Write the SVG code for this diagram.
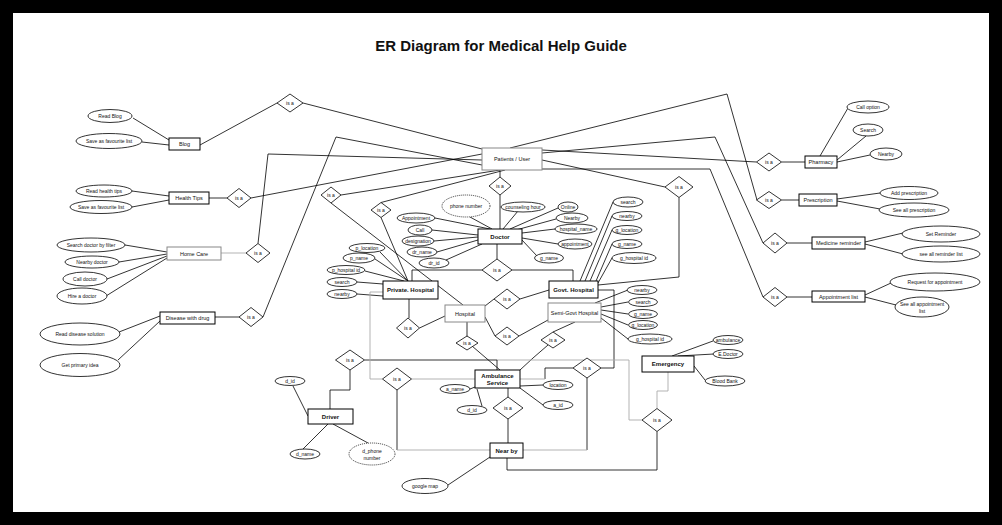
<svg xmlns="http://www.w3.org/2000/svg" width="1002" height="525" viewBox="0 0 1002 525">
<style>
  text { font-family: "Liberation Sans", Arial, sans-serif; fill: #111; text-anchor: middle; dominant-baseline: central; }
  .t { font-size: 5.5px; }
  .tb { font-size: 6px; font-weight: bold; }
  .ti { font-size: 5px; }
  .title { font-size: 15px; font-weight: bold; }
  .ent { fill: #fff; stroke: #000; stroke-width: 1; }
  .entg { fill: #fff; stroke: #888; stroke-width: 1; }
  .att { fill: #fff; stroke: #000; stroke-width: 0.8; }
  .dot { fill: #fff; stroke: #000; stroke-width: 0.8; stroke-dasharray: 1 1; }
  .rel { fill: #fff; stroke: #000; stroke-width: 0.8; }
  .c { fill: none; stroke: #000; stroke-width: 0.8; }
  .cg { fill: none; stroke: #aaa; stroke-width: 0.9; }
</style>

<!-- frame -->
<rect x="0" y="0" width="1002" height="525" fill="#000"/>
<rect x="13" y="13" width="976" height="499" fill="#fff"/>

<text class="title" x="501" y="45">ER Diagram for Medical Help Guide</text>

<!-- connectors -->
<g id="connectors">
  <!-- Blog -->
  <path class="c" d="M133,118 L169,140"/>
  <path class="c" d="M142,142 L169,145"/>
  <path class="c" d="M200,145 L277,103"/>
  <path class="c" d="M303,103 L482,149"/>
  <!-- Health Tips -->
  <path class="c" d="M132,191 L169,196"/>
  <path class="c" d="M132,207 L169,200"/>
  <path class="c" d="M209,198 L227,198"/>
  <path class="c" d="M251,198 L482,154"/>
  <!-- Home Care -->
  <path class="c" d="M125,245 L167,252"/>
  <path class="c" d="M119,262 L167,254"/>
  <path class="c" d="M107,279 L167,256"/>
  <path class="c" d="M106,296 L167,258"/>
  <path class="cg" d="M221,253 L246,253"/>
  <path class="c" d="M258,243.5 L268,154 L482,160"/>
  <!-- Disease with drug -->
  <path class="c" d="M119,332 L160,316"/>
  <path class="c" d="M118,360 L160,321"/>
  <path class="c" d="M215,317 L239,317"/>
  <path class="c" d="M263,317 L336,137 L482,165"/>
  <!-- Patients to hospitals / doctor -->
  <path class="c" d="M341,195 L500,170"/>
  <path class="c" d="M381,202.5 L505,170"/>
  <path class="c" d="M331,203 L463,305"/>
  <path class="c" d="M381,217.5 L408,281"/>
  <path class="c" d="M500,170 L500,177"/>
  <path class="c" d="M500,195 L500,229"/>
  <!-- Doctor attributes -->
  <path class="c" d="M435,218 L490,229"/>
  <path class="c" d="M470,217 L492,229"/>
  <path class="c" d="M518,211 L503,229"/>
  <path class="c" d="M558,208 L510,229"/>
  <path class="c" d="M556,219 L516,230"/>
  <path class="c" d="M555,229 L522,233"/>
  <path class="c" d="M558,244 L522,238"/>
  <path class="c" d="M537,256 L522,240"/>
  <path class="c" d="M432,230 L478,235"/>
  <path class="c" d="M434,241 L478,237"/>
  <path class="c" d="M437,252 L478,240"/>
  <path class="c" d="M446,260 L482,244"/>
  <path class="c" d="M497,244 L497,259"/>
  <path class="c" d="M482,270 L412,270 L412,281"/>
  <path class="c" d="M512,270 L573,270 L573,281"/>
  <!-- Private hospital attributes -->
  <path class="c" d="M380,252 L408,281"/>
  <path class="c" d="M375,259 L408,281"/>
  <path class="c" d="M365,271 L404,281"/>
  <path class="c" d="M357,282 L383,284"/>
  <path class="c" d="M357,294 L383,296"/>
  <path class="c" d="M409,299 L409,318"/>
  <path class="c" d="M419.5,328 L445,316"/>
  <!-- Hospital -->
  <path class="c" d="M485,306 L494,299"/>
  <path class="c" d="M520,299 L549,290"/>
  <path class="c" d="M485,317 L495,336"/>
  <path class="c" d="M519,336 L548,320"/>
  <path class="c" d="M467,322 L467,337"/>
  <path class="c" d="M472,346 L500,370"/>
  <path class="c" d="M575,322 L553,332"/>
  <path class="c" d="M548,345 L533,358 L520,370"/>
  <!-- Govt hospital attributes -->
  <path class="c" d="M613,202 L580,281"/>
  <path class="c" d="M612,216 L585,281"/>
  <path class="c" d="M612,230 L590,281"/>
  <path class="c" d="M612,244 L596,281"/>
  <path class="c" d="M612,258 L598,283"/>
  <path class="c" d="M542,160 L665,187"/>
  <path class="c" d="M679,197.5 L679,277 L598,285"/>
  <!-- Semi-Govt attributes -->
  <path class="c" d="M628,290 L595,303"/>
  <path class="c" d="M628,302 L601,307"/>
  <path class="c" d="M628,314 L601,310"/>
  <path class="c" d="M628,325 L601,314"/>
  <path class="c" d="M628,339 L601,318"/>
  <path class="c" d="M601,368 L614,368 L614,290 L598,290"/>
  <path class="c" d="M573,368 L545,368 L545,379"/>
  <path class="cg" d="M545,379 L520,379"/>
  <path class="c" d="M587,378 L587,450"/>
  <path class="cg" d="M587,450 L523,450"/>
  <!-- Ambulance service -->
  <path class="c" d="M543,385 L520,386"/>
  <path class="c" d="M543,405 L520,388"/>
  <path class="c" d="M470,389 L475,387"/>
  <path class="c" d="M482,406 L477,389"/>
  <path class="c" d="M508,388 L508,397"/>
  <path class="c" d="M508,419 L508,443"/>
  <path class="c" d="M507,458 L507,470 L657,470 L657,431.5"/>
  <path class="cg" d="M657,408.5 L657,391 L668,391 L668,372"/>
  <path class="c" d="M364.5,360 L497,360"/>
  <path class="cg" d="M497,360 L629,360 L629,420 L642,420"/>
  <path class="c" d="M497,360 L497,370"/>
  <!-- Private hospital to ambulance / near by -->
  <path class="cg" d="M383,292 L370,292 L370,379 L382.5,379"/>
  <path class="cg" d="M411.5,379 L475,379"/>
  <path class="c" d="M397,390 L397,450"/>
  <path class="cg" d="M397,450 L490,450"/>
  <!-- Driver -->
  <path class="c" d="M350,370 L350,390 L330,390 L330,409"/>
  <path class="c" d="M293,386 L308,416"/>
  <path class="c" d="M303,449 L328,424"/>
  <path class="c" d="M368,443 L333,424"/>
  <path class="c" d="M448,485 L490,457"/>
  <!-- Emergency -->
  <path class="c" d="M713,341 L672,356"/>
  <path class="c" d="M714,354 L678,356"/>
  <path class="c" d="M705,380 L694,366"/>
  <!-- Patients to right-hand services -->
  <path class="c" d="M510,148 L727,94 L757,200"/>
  <path class="c" d="M542,150 L756.5,162"/>
  <path class="c" d="M542,153 L715,137 L763,243"/>
  <path class="c" d="M542,169 L710,169 L763,297"/>
  <path class="c" d="M781.5,162 L805,162"/>
  <path class="c" d="M781.5,200 L799,200"/>
  <path class="c" d="M787,243 L812,243"/>
  <path class="c" d="M787,297 L812,297"/>
  <!-- Pharmacy attributes -->
  <path class="c" d="M848,108 L820,156"/>
  <path class="c" d="M866,136 L837,160"/>
  <path class="c" d="M870,155 L837,162"/>
  <!-- Prescription attributes -->
  <path class="c" d="M837,199 L880,193"/>
  <path class="c" d="M837,201 L880,209"/>
  <!-- Medicine reminder attributes -->
  <path class="c" d="M865,242 L903,233"/>
  <path class="c" d="M865,244 L903,254"/>
  <!-- Appointment list attributes -->
  <path class="c" d="M865,295 L891,283"/>
  <path class="c" d="M865,297 L896,305"/>
</g>

<!-- relationships -->
<g id="relationships">
  <g id="isa-blog"><polygon class="rel" points="277,103 290,94 303,103 290,112"/><text class="ti" x="290" y="103">is a</text></g>
  <g id="isa-health"><polygon class="rel" points="227,198 239,188.5 251,198 239,207.5"/><text class="ti" x="239" y="198">is a</text></g>
  <g id="isa-home"><polygon class="rel" points="246,253 258,243.5 270,253 258,262.5"/><text class="ti" x="258" y="253">is a</text></g>
  <g id="isa-disease"><polygon class="rel" points="239,317 251,307.5 263,317 251,326.5"/><text class="ti" x="251" y="317">is a</text></g>
  <g id="isa-hospital"><polygon class="rel" points="321,195 331,187 341,195 331,203"/><text class="ti" x="331" y="195">is a</text></g>
  <g id="isa-private"><polygon class="rel" points="371,210 381,202.5 391,210 381,217.5"/><text class="ti" x="381" y="210">is a</text></g>
  <g id="isa-doctor"><polygon class="rel" points="489,186 500,177 511,186 500,195"/><text class="ti" x="500" y="186">is a</text></g>
  <g id="isa-doctor-hosp"><polygon class="rel" points="482,270 497,259 512,270 497,281"/><text class="ti" x="497" y="270">is a</text></g>
  <g id="isa-govt"><polygon class="rel" points="665,187 679,176.5 693,187 679,197.5"/><text class="ti" x="679" y="187">is a</text></g>
  <g id="isa-pharmacy"><polygon class="rel" points="756.5,162 769,153 781.5,162 769,171"/><text class="ti" x="769" y="162">is a</text></g>
  <g id="isa-prescription"><polygon class="rel" points="756.5,200 769,191.5 781.5,200 769,208.5"/><text class="ti" x="769" y="200">is a</text></g>
  <g id="isa-medicine"><polygon class="rel" points="763,243 775,233 787,243 775,253"/><text class="ti" x="775" y="243">is a</text></g>
  <g id="isa-appointment"><polygon class="rel" points="763,297 775,287.5 787,297 775,306.5"/><text class="ti" x="775" y="297">is a</text></g>
  <g id="isa-private-hosp"><polygon class="rel" points="396.5,328 408,318 419.5,328 408,338"/><text class="ti" x="408" y="328">is a</text></g>
  <g id="isa-hosp-govt"><polygon class="rel" points="494,299 507,289 520,299 507,309"/><text class="ti" x="507" y="299">is a</text></g>
  <g id="isa-hosp-semi"><polygon class="rel" points="495,336 507,327 519,336 507,345"/><text class="ti" x="507" y="336">is a</text></g>
  <g id="isa-hosp-amb"><polygon class="rel" points="456,343 467,336 478,343 467,350"/><text class="ti" x="467" y="343">is a</text></g>
  <g id="isa-semi-amb"><polygon class="rel" points="541,340 553,332 565,340 553,348"/><text class="ti" x="553" y="340">is a</text></g>
  <g id="isa-govt-amb"><polygon class="rel" points="573,368 587,358 601,368 587,378"/><text class="ti" x="587" y="368">is a</text></g>
  <g id="isa-driver"><polygon class="rel" points="335.5,360 350,350 364.5,360 350,370"/><text class="ti" x="350" y="360">is a</text></g>
  <g id="isa-private-amb"><polygon class="rel" points="382.5,379 397,368 411.5,379 397,390"/><text class="ti" x="397" y="379">is a</text></g>
  <g id="isa-amb-nearby"><polygon class="rel" points="493,408 508,397 523,408 508,419"/><text class="ti" x="508" y="408">is a</text></g>
  <g id="isa-emergency"><polygon class="rel" points="642,420 657,408.5 672,420 657,431.5"/><text class="ti" x="657" y="420">is a</text></g>
</g>

<!-- entities -->
<g id="blog"><rect class="ent" x="169" y="138" width="31" height="12"/><text class="t" x="184.5" y="144">Blog</text></g>
<g id="health-tips"><rect class="ent" x="169" y="192" width="40" height="12"/><text class="t" x="189" y="198">Health Tips</text></g>
<g id="home-care"><rect class="entg" x="167" y="247" width="54" height="13"/><text class="t" x="194" y="253.5">Home Care</text></g>
<g id="disease-with-drug"><rect class="ent" x="160" y="312" width="55" height="12"/><text class="t" x="187.5" y="318">Disease with drug</text></g>
<g id="patients-user"><rect class="entg" x="482" y="148" width="60" height="22"/><text class="t" x="512" y="159">Patients / User</text></g>
<g id="doctor"><rect class="ent" x="478" y="229" width="44" height="15"/><text class="tb" x="500" y="236.5">Doctor</text></g>
<g id="private-hospital"><rect class="ent" x="383" y="281" width="55" height="18"/><text class="tb" x="410.5" y="290">Private. Hospital</text></g>
<g id="govt-hospital"><rect class="ent" x="549" y="281" width="49" height="17"/><text class="tb" x="573.5" y="289.5">Govt. Hospital</text></g>
<g id="hospital"><rect class="entg" x="445" y="305" width="40" height="17"/><text class="t" x="465" y="313.5">Hospital</text></g>
<g id="semi-govt-hospital"><rect class="entg" x="548" y="303" width="53" height="19"/><text class="t" x="574.5" y="312.5">Semi-Govt Hospital</text></g>
<g id="ambulance-service"><rect class="ent" x="475" y="370" width="45" height="18"/><text class="tb" x="497.5" y="375.5">Ambulance</text><text class="tb" x="497.5" y="382.5">Service</text></g>
<g id="driver"><rect class="ent" x="308" y="409" width="45" height="15"/><text class="tb" x="330.5" y="416.5">Driver</text></g>
<g id="near-by"><rect class="ent" x="490" y="443" width="33" height="15"/><text class="tb" x="506.5" y="450.5">Near by</text></g>
<g id="emergency"><rect class="ent" x="642" y="356" width="52" height="16"/><text class="tb" x="668" y="364">Emergency</text></g>
<g id="pharmacy"><rect class="ent" x="805" y="156" width="32" height="12"/><text class="t" x="821" y="162">Pharmacy</text></g>
<g id="prescription"><rect class="ent" x="799" y="194" width="38" height="12"/><text class="t" x="818" y="200">Prescription</text></g>
<g id="medicine-reminder"><rect class="ent" x="812" y="237" width="53" height="12"/><text class="t" x="838.5" y="243">Medicine reminder</text></g>
<g id="appointment-list"><rect class="ent" x="812" y="291" width="53" height="11"/><text class="t" x="838.5" y="296.5">Appointment list</text></g>

<!-- attributes -->
<g id="attributes">
  <g><ellipse class="att" cx="110" cy="116" rx="22" ry="6.5"/><text class="ti" x="110" y="116">Read Blog</text></g>
  <g><ellipse class="att" cx="109" cy="141" rx="33" ry="7.5"/><text class="ti" x="109" y="141">Save  as favourite list</text></g>
  <g><ellipse class="att" cx="104" cy="191" rx="28" ry="6"/><text class="ti" x="104" y="191">Read health tips</text></g>
  <g><ellipse class="att" cx="101" cy="207" rx="31" ry="6.5"/><text class="ti" x="101" y="207">Save  as favourite list</text></g>
  <g><ellipse class="att" cx="91" cy="245" rx="34" ry="7"/><text class="ti" x="91" y="245">Search doctor by filter</text></g>
  <g><ellipse class="att" cx="92" cy="262" rx="27" ry="6"/><text class="ti" x="92" y="262">Nearby doctor</text></g>
  <g><ellipse class="att" cx="85" cy="279" rx="22" ry="7"/><text class="ti" x="85" y="279">Call doctor</text></g>
  <g><ellipse class="att" cx="82" cy="296" rx="25" ry="8"/><text class="ti" x="82" y="296">Hire a doctor</text></g>
  <g><ellipse class="att" cx="80" cy="334" rx="40" ry="11"/><text class="ti" x="80" y="334">Read disease solution</text></g>
  <g><ellipse class="att" cx="80" cy="365" rx="40" ry="11.5"/><text class="ti" x="80" y="365">Get primary idea</text></g>

  <g><ellipse class="dot" cx="466" cy="206" rx="24" ry="11"/><text class="ti" x="466" y="206">phone number</text></g>
  <g><ellipse class="att" cx="523" cy="207" rx="22" ry="5"/><text class="ti" x="523" y="207">counseling hour</text></g>
  <g><ellipse class="att" cx="568" cy="207" rx="10" ry="5"/><text class="ti" x="568" y="207">Online</text></g>
  <g><ellipse class="att" cx="572" cy="218" rx="16" ry="5"/><text class="ti" x="572" y="218">Nearby</text></g>
  <g><ellipse class="att" cx="576" cy="229" rx="21" ry="5"/><text class="ti" x="576" y="229">hospital_name</text></g>
  <g><ellipse class="att" cx="575" cy="244" rx="17" ry="5"/><text class="ti" x="575" y="244">appointment</text></g>
  <g><ellipse class="att" cx="549" cy="258" rx="14.5" ry="5"/><text class="ti" x="549" y="258">g_name</text></g>
  <g><ellipse class="att" cx="416" cy="218" rx="19" ry="5"/><text class="ti" x="416" y="218">Appointment</text></g>
  <g><ellipse class="att" cx="420" cy="230" rx="12" ry="5"/><text class="ti" x="420" y="230">Call</text></g>
  <g><ellipse class="att" cx="418" cy="241" rx="16" ry="5"/><text class="ti" x="418" y="241">designation</text></g>
  <g><ellipse class="att" cx="422" cy="252" rx="15" ry="5"/><text class="ti" x="422" y="252">dr_name</text></g>
  <g><ellipse class="att" cx="434" cy="263" rx="15" ry="5"/><text class="ti" x="434" y="263">dr_id</text></g>

  <g><ellipse class="att" cx="367" cy="248" rx="18" ry="4.5"/><text class="ti" x="367" y="248">p_location</text></g>
  <g><ellipse class="att" cx="359" cy="258" rx="16" ry="5"/><text class="ti" x="359" y="258">p_name</text></g>
  <g><ellipse class="att" cx="346" cy="270" rx="19" ry="4.5"/><text class="ti" x="346" y="270">p_hospital id</text></g>
  <g><ellipse class="att" cx="342" cy="282" rx="15" ry="4.5"/><text class="ti" x="342" y="282">search</text></g>
  <g><ellipse class="att" cx="342" cy="294" rx="15" ry="4.5"/><text class="ti" x="342" y="294">nearby</text></g>

  <g><ellipse class="att" cx="628" cy="202" rx="15" ry="5"/><text class="ti" x="628" y="202">search</text></g>
  <g><ellipse class="att" cx="627" cy="216" rx="15" ry="4.5"/><text class="ti" x="627" y="216">nearby</text></g>
  <g><ellipse class="att" cx="627" cy="230" rx="15" ry="4.5"/><text class="ti" x="627" y="230">g_location</text></g>
  <g><ellipse class="att" cx="627" cy="244" rx="15" ry="4.5"/><text class="ti" x="627" y="244">g_name</text></g>
  <g><ellipse class="att" cx="634" cy="258" rx="22" ry="5.5"/><text class="ti" x="634" y="258">g_hospital id</text></g>

  <g><ellipse class="att" cx="642" cy="290" rx="15" ry="4.5"/><text class="ti" x="642" y="290">nearby</text></g>
  <g><ellipse class="att" cx="643" cy="302" rx="14.5" ry="4.5"/><text class="ti" x="643" y="302">search</text></g>
  <g><ellipse class="att" cx="643" cy="314" rx="14.5" ry="4.5"/><text class="ti" x="643" y="314">g_name</text></g>
  <g><ellipse class="att" cx="643" cy="325" rx="14.5" ry="4.5"/><text class="ti" x="643" y="325">g_location</text></g>
  <g><ellipse class="att" cx="650" cy="339" rx="22" ry="5"/><text class="ti" x="650" y="339">g_hospital id</text></g>

  <g><ellipse class="att" cx="728" cy="340" rx="15" ry="4.5"/><text class="ti" x="728" y="340">ambulance</text></g>
  <g><ellipse class="att" cx="728" cy="354" rx="15" ry="4.5"/><text class="ti" x="728" y="354">E.Doctor</text></g>
  <g><ellipse class="att" cx="725" cy="381" rx="20" ry="5"/><text class="ti" x="725" y="381">Blood Bank</text></g>

  <g><ellipse class="att" cx="558" cy="385" rx="15" ry="4.5"/><text class="ti" x="558" y="385">location</text></g>
  <g><ellipse class="att" cx="558" cy="405" rx="15" ry="4.5"/><text class="ti" x="558" y="405">a_id</text></g>
  <g><ellipse class="att" cx="455" cy="389" rx="15" ry="4.5"/><text class="ti" x="455" y="389">a_name</text></g>
  <g><ellipse class="att" cx="472" cy="410" rx="15" ry="4.5"/><text class="ti" x="472" y="410">d_id</text></g>

  <g><ellipse class="att" cx="290" cy="381" rx="15" ry="4.5"/><text class="ti" x="290" y="381">d_id</text></g>
  <g><ellipse class="att" cx="305" cy="454" rx="15" ry="5"/><text class="ti" x="305" y="454">d_name</text></g>
  <g><ellipse class="dot" cx="372" cy="454" rx="23" ry="11"/><text class="ti" x="372" y="450.5">d_phone</text><text class="ti" x="372" y="457.5">number</text></g>
  <g><ellipse class="att" cx="425" cy="486" rx="23" ry="7.5"/><text class="ti" x="425" y="486">google map</text></g>

  <g><ellipse class="att" cx="868" cy="107" rx="21" ry="6"/><text class="ti" x="868" y="107">Call option</text></g>
  <g><ellipse class="att" cx="868" cy="130" rx="15" ry="6"/><text class="ti" x="868" y="130">Search</text></g>
  <g><ellipse class="att" cx="886" cy="154" rx="16" ry="6"/><text class="ti" x="886" y="154">Nearby</text></g>
  <g><ellipse class="att" cx="909" cy="193" rx="29" ry="6.5"/><text class="ti" x="909" y="193">Add prescription</text></g>
  <g><ellipse class="att" cx="914" cy="210" rx="35" ry="7"/><text class="ti" x="914" y="210">See all prescription</text></g>
  <g><ellipse class="att" cx="941" cy="234" rx="39" ry="8"/><text class="ti" x="941" y="234">Set Reminder</text></g>
  <g><ellipse class="att" cx="941" cy="254" rx="39" ry="8"/><text class="ti" x="941" y="254">see all reminder list</text></g>
  <g><ellipse class="att" cx="935" cy="282" rx="45" ry="9"/><text class="ti" x="935" y="282">Request for appointment</text></g>
  <g><ellipse class="att" cx="922" cy="307" rx="27" ry="10"/><text class="ti" x="922" y="303.5">See all appointment</text><text class="ti" x="922" y="310.5">list</text></g>
</g>
</svg>
